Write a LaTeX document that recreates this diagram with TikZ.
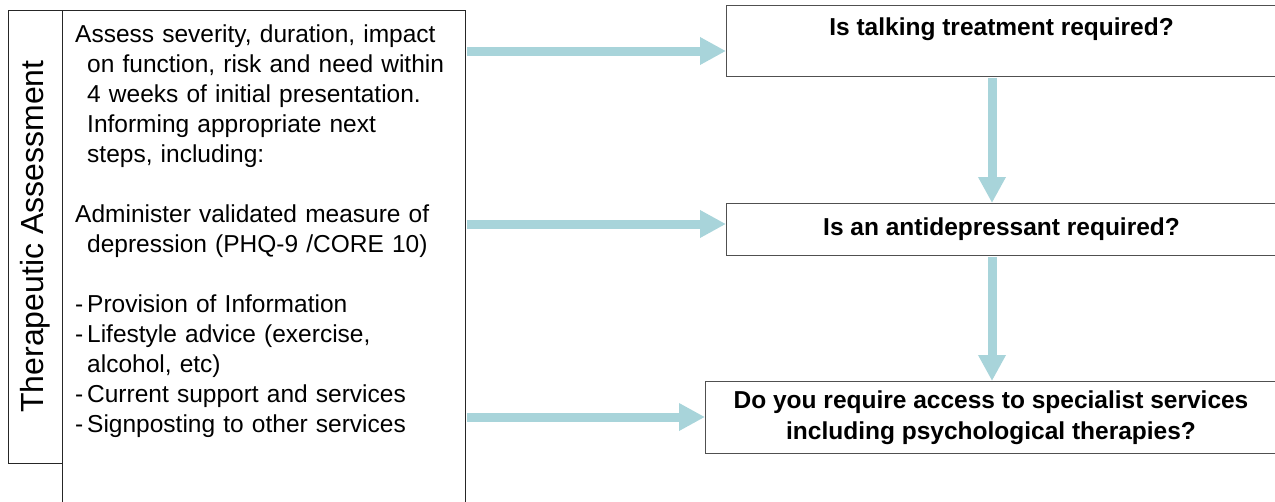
\documentclass[tikz,border=0pt]{standalone}
\usepackage{fontspec}
\setmainfont{Liberation Sans}
\usetikzlibrary{arrows.meta,positioning}
\definecolor{flowteal}{RGB}{168,212,218}
\definecolor{edgegrey}{RGB}{80,80,80}
\newcommand\hangpara{\noindent\hangindent=12pt\hangafter=1\relax}
\newcommand\dashitem{\makebox[12pt][l]{-}}
\tikzset{
  panel/.style={draw=black!85, line width=0.9pt, inner sep=0pt},
  askbox/.style={draw=edgegrey, line width=1.1pt, align=center, inner sep=0pt,
    font=\fontsize{24.5}{31}\selectfont\bfseries},
  flow/.style={draw=flowteal, line width=9pt, shorten <=1pt,
    -{Triangle[width=26pt,length=26pt]}},
}
\begin{document}
\begin{tikzpicture}[x=1pt,y=1pt]
  \useasboundingbox (0,0) rectangle (1275,-501);
  \clip (0,0) rectangle (1275,-501);
  % left column
  \node[panel, rotate=90, minimum width=453pt, minimum height=54pt,
    font=\fontsize{32}{36}\selectfont] (side) at (35,-236.5) {Therapeutic Assessment};
  \node[panel, anchor=north west, minimum width=403pt, minimum height=510pt] (main) at (62,-10) {};
  \node[anchor=north west, text width=395pt, inner sep=0pt, align=left,
    font=\fontsize{24.5}{30}\selectfont] (steps) at (75,-25) {%
    \hangpara Assess severity, duration, impact\newline on function, risk and need within\newline
      4 weeks of initial presentation.\newline Informing appropriate next\newline steps, including:\par
    \vspace{30pt}
    \hangpara Administer validated measure of\newline depression (PHQ-9 /CORE 10)\par
    \vspace{30pt}
    \hangpara\dashitem Provision of Information\par
    \hangpara\dashitem Lifestyle advice (exercise,\newline alcohol, etc)\par
    \hangpara\dashitem Current support and services\par
    \hangpara\dashitem Signposting to other services\par};
  % questions
  \node[askbox, anchor=north west, minimum width=550pt, text height=30pt, text depth=41pt]
    (ask1) at (726,-5) {Is talking treatment required?};
  \node[askbox, anchor=north west, minimum width=550pt, minimum height=52pt]
    (ask2) at (726,-203) {Is an antidepressant required?};
  \node[askbox, anchor=north west, minimum width=571pt, minimum height=72pt]
    (ask3) at (705,-381) {Do you require access to specialist services\\including psychological therapies?};
  % arrows
  \coordinate (r1) at (0,-51);
  \coordinate (r2) at (0,-224);
  \coordinate (r3) at (0,-417);
  \coordinate (down) at (992,0);
  \draw[flow] (main.east |- r1) -- (ask1.west |- r1);
  \draw[flow] (main.east |- r2) -- (ask2.west |- r2);
  \draw[flow] (main.east |- r3) -- (ask3.west |- r3);
  \draw[flow] (ask1.south -| down) -- (ask2.north -| down);
  \draw[flow] (ask2.south -| down) -- (ask3.north -| down);
\end{tikzpicture}
\end{document}
